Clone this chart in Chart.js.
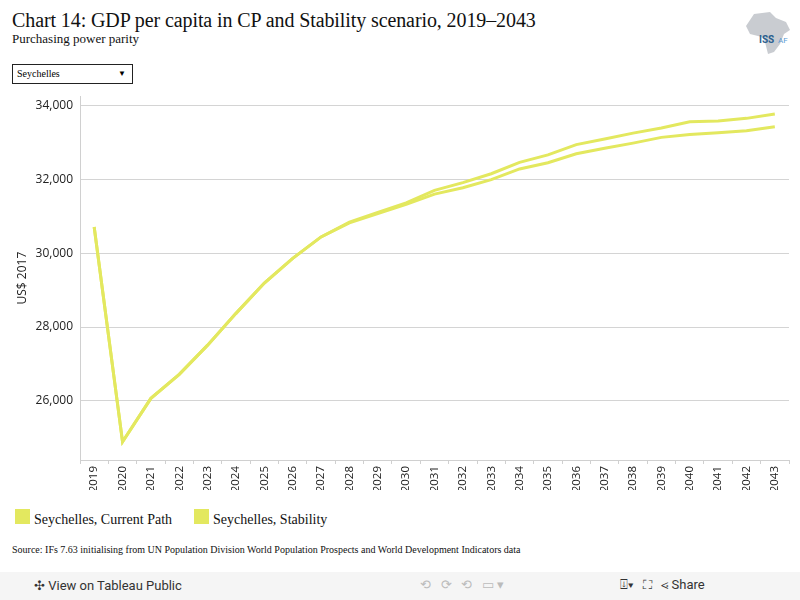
<!DOCTYPE html>
<html>
<head>
<meta charset="utf-8">
<script src="https://cdn.jsdelivr.net/npm/chart.js@4/dist/chart.umd.min.js"></script>
<style>
  body { margin:0; width:800px; height:600px; background:#fff; position:relative; overflow:hidden; font-family:"Liberation Serif", serif; }
  .title { position:absolute; left:12px; top:9px; font-size:20px; color:#111; white-space:nowrap; letter-spacing:-0.1px; }
  .subtitle { position:absolute; left:12px; top:31px; font-size:13px; color:#111; }
  .dropdown { position:absolute; left:12px; top:64px; width:119px; height:18px; border:1px solid #222; font-size:10px; line-height:18px; }
  .dropdown span { position:absolute; left:4px; }
  .dropdown b { position:absolute; right:6px; font-size:8px; font-weight:normal; }
  .logo { position:absolute; left:740px; top:10px; width:56px; height:46px; }
  #wrap { position:absolute; left:0; top:82px; width:800px; height:408px; }
  .legend { position:absolute; top:509px; font-size:14px; color:#111; height:18px; overflow:hidden; white-space:nowrap; }
  .legend i { position:absolute; left:0; top:0; width:15px; height:15px; background:#e3e85f; }
  .legend span { position:absolute; left:19px; top:3px; }
  .source { position:absolute; left:12px; top:544px; font-size:10px; color:#111; white-space:nowrap; }
  .bar { position:absolute; left:0; top:572px; width:800px; height:28px; background:#f5f5f5; font-family:Roboto, sans-serif; font-size:13px; color:#333; }
</style>
</head>
<body>
<div class="title">Chart 14: GDP per capita in CP and Stability scenario, 2019–2043</div>
<div class="subtitle">Purchasing power parity</div>
<div class="dropdown"><span>Seychelles</span><b>▼</b></div>
<svg class="logo" viewBox="0 0 56 46">
  <path d="M14 4 L30 2 L36 8 L46 12 L50 20 L44 24 L40 34 L34 42 L28 44 L26 36 L24 28 L18 26 L10 24 L6 16 Z" fill="#c9ccd1"/>
  <text x="19" y="33" font-family="Roboto, sans-serif" font-size="10" fill="#2b5f8f" font-weight="bold">ISS</text>
  <text x="38" y="33" font-family="Roboto, sans-serif" font-size="8" fill="#5a9bd4">AF</text>
</svg>
<div id="wrap"><canvas id="chart"></canvas></div>
<div class="legend" style="left:15px;width:170px"><i></i><span>Seychelles, Current Path</span></div>
<div class="legend" style="left:194px;width:170px"><i></i><span>Seychelles, Stability</span></div>
<div class="source">Source: IFs 7.63 initialising from UN Population Division World Population Prospects and World Development Indicators data</div>
<div class="bar">
  <span style="position:absolute;left:34px;top:6px;">✣ View on Tableau Public</span>
  <span style="position:absolute;left:420px;top:5px;color:#bbb;">⟲ &nbsp; ⟳ &nbsp; ⟲ &nbsp; ▭ ▾</span>
  <span style="position:absolute;left:620px;top:5px;">⍗▾ &nbsp; ⛶ &nbsp; ⋖ Share</span>
</div>
<script>
// === DATA ===
const years = ['2019','2020','2021','2022','2023','2024','2025','2026','2027','2028','2029','2030','2031',
               '2032','2033','2034','2035','2036','2037','2038','2039','2040','2041','2042','2043'];
const currentPath = [30710, 24890, 26070, 26720, 27510, 28370, 29190, 29860, 30440, 30820, 31070, 31320, 31600,
                     31770, 31990, 32280, 32450, 32690, 32840, 32980, 33135, 33210, 33260, 33315, 33420];
const stability = [30710, 24890, 26070, 26720, 27510, 28370, 29190, 29860, 30440, 30840, 31100, 31360, 31700,
                   31910, 32150, 32460, 32660, 32940, 33090, 33250, 33390, 33560, 33580, 33650, 33770];
const yTicks = [26000, 28000, 30000, 32000, 34000];

const lineColor = '#e3e85f';
const ctx = document.getElementById('chart').getContext('2d');
new Chart(ctx, {
    type: 'line',
    data: {
        labels: years,
        datasets: [
            { label: 'Seychelles, Current Path', data: currentPath, borderColor: lineColor, borderWidth: 3, pointRadius: 0, tension: 0 },
            { label: 'Seychelles, Stability', data: stability, borderColor: lineColor, borderWidth: 3, pointRadius: 0, tension: 0 }
        ]
    },
    options: {
        responsive: true,
        maintainAspectRatio: false,
        animation: false,
        layout: { padding: { top: 5, right: 11, left: 0, bottom: 0 } },
        plugins: { legend: { display: false }, tooltip: { enabled: false } },
        scales: {
            x: {
                offset: true,
                grid: { offset: true, drawOnChartArea: false, tickLength: 4, color: '#d0d0d0' },
                border: { color: '#d0d0d0' },
                ticks: { minRotation: 90, maxRotation: 90, autoSkip: false, padding: 2, color: '#222',
                         font: { family: 'Open Sans', size: 11.5 } },
                afterFit: (s) => { s.height = 30; }
            },
            y: {
                min: 24400,
                max: 34250,
                afterBuildTicks: (s) => { s.ticks = yTicks.map(v => ({ value: v })); },
                grid: { color: '#d4d4d4', drawTicks: false },
                border: { color: '#d0d0d0' },
                ticks: { padding: 7, color: '#222', font: { family: 'Open Sans', size: 12 },
                         callback: (v) => v.toLocaleString('en-US') },
                title: { display: true, text: 'US$ 2017', color: '#222', font: { family: 'Open Sans', size: 12 },
                         padding: { top: 15, bottom: 0 } },
                afterFit: (s) => { s.width = 80; }
            }
        }
    }
});
</script>
</body>
</html>
